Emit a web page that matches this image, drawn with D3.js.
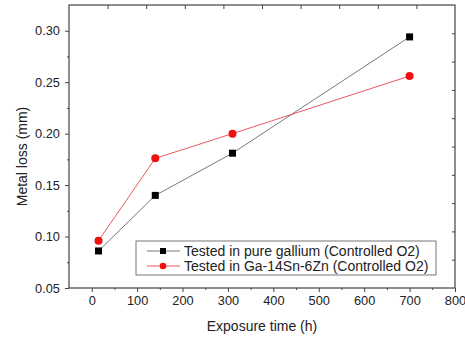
<!DOCTYPE html>
<html>
<head>
<meta charset="utf-8">
<script src="https://cdn.jsdelivr.net/npm/d3@7"></script>
<style>
    body { margin: 0; background: #fff; }
    text { font-family: "Liberation Sans", Arial, sans-serif; fill: #222; }
</style>
</head>
<body>
<svg id="chart" width="465" height="340"></svg>
<script>
// exposure times (h)
const hours = [15, 140, 310, 700];
// metal loss (mm)
const pureGallium = [0.086, 0.14, 0.181, 0.294];
const gaSnZn = [0.096, 0.176, 0.2, 0.256];
const seriesNames = ["Tested in pure gallium (Controlled O2)", "Tested in Ga-14Sn-6Zn (Controlled O2)"];
const xTicks = [0, 100, 200, 300, 400, 500, 600, 700, 800];
const yTicks = [0.05, 0.10, 0.15, 0.20, 0.25, 0.30];

let margin = {left: 69, right: 10, top: 5, bottom: 52};
let width = 465 - margin.left - margin.right;
let height = 340 - margin.top - margin.bottom;

let svg = d3.select("#chart");
let g = svg.append("g").attr("transform", `translate(${margin.left},${margin.top})`);

let x = d3.scaleLinear().domain([-50, 800]).range([0, width]);
let y = d3.scaleLinear().domain([0.05, 0.325]).range([height, 0]);

// frame
g.append("rect")
    .attr("width", width).attr("height", height)
    .attr("fill", "none").attr("stroke", "#444").attr("stroke-width", 1.2);

// bottom axis, major + minor
g.append("g").attr("transform", `translate(0,${height})`)
    .call(d3.axisBottom(x).tickValues(xTicks).tickSize(4).tickPadding(4).tickFormat(d3.format("d")));
g.append("g").attr("transform", `translate(0,${height})`)
    .call(d3.axisBottom(x).tickValues(d3.range(50, 800, 100)).tickSize(2).tickFormat(""));

// left axis, major + minor
g.append("g")
    .call(d3.axisLeft(y).tickValues(yTicks).tickSize(4).tickPadding(5).tickFormat(d3.format(".2f")));
g.append("g")
    .call(d3.axisLeft(y).tickValues(d3.range(0.075, 0.325, 0.05)).tickSize(2).tickFormat(""));

// top and right axes split in ten equal parts, ticks pointing in
let topScale = d3.scaleLinear().domain([0, 10]).range([0, width]);
g.append("g")
    .call(d3.axisBottom(topScale).tickValues(d3.range(1, 10)).tickSize(4).tickFormat(""));
let rightScale = d3.scaleLinear().domain([0, 10]).range([height, 0]);
g.append("g").attr("transform", `translate(${width},0)`)
    .call(d3.axisLeft(rightScale).tickValues(d3.range(1, 10)).tickSize(3).tickFormat(""));

g.selectAll(".domain").remove();
g.selectAll(".tick line").attr("stroke", "#444");
g.selectAll(".tick text").style("font-size", "12.8px").attr("fill", "#222");

// axis titles
svg.append("text")
    .attr("x", margin.left + x(375)).attr("y", 331)
    .attr("text-anchor", "middle").style("font-size", "14px")
    .text("Exposure time (h)");
svg.append("text")
    .attr("transform", `translate(27,${margin.top + height / 2 + 10}) rotate(-90)`)
    .attr("text-anchor", "middle").style("font-size", "14px")
    .text("Metal loss (mm)");

let line = d3.line().x(d => x(d[0])).y(d => y(d[1]));

let black = hours.map((h, i) => [h, pureGallium[i]]);
let red = hours.map((h, i) => [h, gaSnZn[i]]);

g.append("path").datum(black).attr("d", line)
    .attr("fill", "none").attr("stroke", "#555").attr("stroke-width", 0.8);
g.append("path").datum(red).attr("d", line)
    .attr("fill", "none").attr("stroke", "#e0303a").attr("stroke-width", 0.8);

g.selectAll(".sq").data(black).enter().append("rect")
    .attr("x", d => x(d[0]) - 3.5).attr("y", d => y(d[1]) - 3.5)
    .attr("width", 7).attr("height", 7).attr("fill", "#000");
g.selectAll(".dot").data(red).enter().append("circle")
    .attr("cx", d => x(d[0])).attr("cy", d => y(d[1])).attr("r", 4)
    .attr("fill", "#f01010");

// legend
let legend = svg.append("g").attr("transform", "translate(136,241)");
legend.append("rect").attr("width", 300).attr("height", 34)
    .attr("fill", "#fff").attr("stroke", "#555").attr("stroke-width", 0.8);
let rows = legend.selectAll(".row").data(seriesNames).enter().append("g")
    .attr("transform", (d, i) => `translate(0,${10 + i * 15})`);
rows.append("line").attr("x1", 11).attr("x2", 44)
    .attr("stroke", (d, i) => i ? "#e0303a" : "#555").attr("stroke-width", 0.8);
rows.filter((d, i) => i == 0).append("rect")
    .attr("x", 24).attr("y", -3).attr("width", 6).attr("height", 6).attr("fill", "#000");
rows.filter((d, i) => i == 1).append("circle")
    .attr("cx", 27).attr("r", 3.3).attr("fill", "#f01010");
rows.append("text").attr("x", 48).attr("dy", "0.36em")
    .style("font-size", "14px").text(d => d);
</script>
</body>
</html>
